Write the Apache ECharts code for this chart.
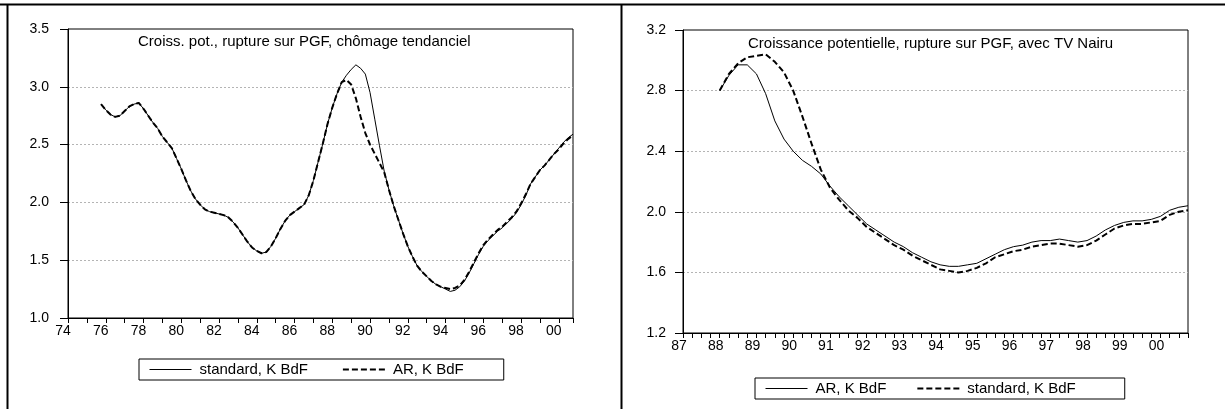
<!DOCTYPE html>
<html>
<head>
<meta charset="utf-8">
<script src="https://cdn.jsdelivr.net/npm/echarts@6/dist/echarts.min.js"></script>
<style>
html, body { margin: 0; padding: 0; background: #fff; }
#chart { width: 1225px; height: 409px; }
</style>
</head>
<body>
<div id="chart"></div>
<script>
// left panel: quarterly, first obs 1975Q4
var leftStart = 1975.75;
var leftStandard = [
  2.85, 2.80, 2.76, 2.74, 2.75, 2.79, 2.83, 2.85, 2.86,
  2.81, 2.75, 2.69, 2.64, 2.57, 2.52, 2.47, 2.38,
  2.29, 2.19, 2.10, 2.03, 1.98, 1.94, 1.92, 1.91,
  1.90, 1.89, 1.87, 1.83, 1.78, 1.72, 1.66, 1.61,
  1.58, 1.56, 1.57, 1.62, 1.69, 1.77, 1.84, 1.89,
  1.92, 1.95, 1.98, 2.06, 2.19, 2.35, 2.51, 2.68,
  2.82, 2.94, 3.04, 3.10, 3.15, 3.19, 3.16, 3.11,
  2.95, 2.72, 2.49, 2.27, 2.11, 1.97, 1.85, 1.73,
  1.62, 1.53, 1.45, 1.40, 1.36, 1.32, 1.29, 1.27,
  1.25, 1.23, 1.24, 1.27, 1.32, 1.39, 1.47, 1.55,
  1.62, 1.67, 1.71, 1.75, 1.78, 1.82, 1.86, 1.91,
  1.98, 2.06, 2.16, 2.22, 2.28, 2.32, 2.37, 2.42,
  2.47, 2.52, 2.56, 2.59
];
var leftAR = [
  2.85, 2.80, 2.76, 2.74, 2.75, 2.79, 2.83, 2.85, 2.86,
  2.81, 2.75, 2.69, 2.64, 2.57, 2.52, 2.47, 2.38,
  2.29, 2.19, 2.10, 2.03, 1.98, 1.94, 1.92, 1.91,
  1.90, 1.89, 1.87, 1.83, 1.78, 1.72, 1.66, 1.61,
  1.58, 1.56, 1.57, 1.62, 1.69, 1.77, 1.84, 1.89,
  1.92, 1.95, 1.98, 2.06, 2.19, 2.35, 2.51, 2.68,
  2.82, 2.94, 3.04, 3.06, 3.02, 2.90, 2.74, 2.60,
  2.50, 2.42, 2.34, 2.26, 2.11, 1.97, 1.85, 1.73,
  1.62, 1.53, 1.45, 1.40, 1.36, 1.32, 1.29, 1.27,
  1.26, 1.25, 1.26, 1.28, 1.33, 1.40, 1.48, 1.56,
  1.63, 1.68, 1.72, 1.76, 1.79, 1.83, 1.87, 1.92,
  1.99, 2.07, 2.16, 2.22, 2.28, 2.32, 2.37, 2.42,
  2.46, 2.51, 2.55, 2.58
];

// right panel: quarterly, first obs 1988Q1
var rightStart = 1988;
var rightAR = [
  2.80, 2.90, 2.97, 2.97, 2.91, 2.78, 2.60, 2.48,
  2.40, 2.34, 2.30, 2.25, 2.17, 2.10, 2.04, 1.98,
  1.92, 1.88, 1.84, 1.80, 1.77, 1.73, 1.70, 1.67,
  1.65, 1.64, 1.64, 1.65, 1.66, 1.69, 1.72, 1.75,
  1.77, 1.78, 1.80, 1.81, 1.81, 1.82, 1.81, 1.80,
  1.81, 1.84, 1.88, 1.91, 1.93, 1.94, 1.94, 1.95,
  1.97, 2.01, 2.03, 2.04
];
var rightStandard = [
  2.80, 2.91, 2.98, 3.02, 3.03, 3.04, 2.99, 2.92,
  2.80, 2.63, 2.45, 2.28, 2.16, 2.08, 2.01, 1.96,
  1.90, 1.86, 1.82, 1.78, 1.75, 1.71, 1.68, 1.65,
  1.62, 1.61, 1.60, 1.61, 1.63, 1.66, 1.70, 1.72,
  1.74, 1.75, 1.77, 1.78, 1.79, 1.79, 1.78, 1.77,
  1.78, 1.81, 1.85, 1.89, 1.91, 1.92, 1.92, 1.93,
  1.94, 1.98, 2.00, 2.01
];

var leftTitle = 'Croiss. pot., rupture sur PGF, chômage tendanciel';
var rightTitle = 'Croissance potentielle, rupture sur PGF, avec TV Nairu';

function toPairs(start, values) {
  return values.map(function (v, i) { return [start + i * 0.25, v]; });
}

var font = 'Liberation Sans, Arial, sans-serif';
var solid = { color: '#000', width: 1, type: 'solid' };
var dashed = { color: '#000', width: 2, type: [6, 3] };
var noSymbol = { color: 'transparent', borderWidth: 0, opacity: 0 };

function yAxis(grid, min, max, step, margin) {
  return {
    type: 'value', gridIndex: grid, min: min, max: max, interval: step,
    axisLine: { show: true, lineStyle: { color: '#000', width: 1 } },
    axisTick: { show: true, length: 8, lineStyle: { color: '#000' } },
    axisLabel: {
      color: '#000', fontSize: 14, fontFamily: font, margin: margin,
      formatter: function (v) { return v.toFixed(1); }
    },
    splitLine: { show: true, showMinLine: false, showMaxLine: false,
      lineStyle: { color: '#b4b4b4', type: [2, 2], width: 1 } }
  };
}

function yearLabel(v) {
  return String(Math.round(v) % 100).padStart(2, '0');
}

function legendBox(left, top, pad, gap, items) {
  return {
    left: left, top: top, orient: 'horizontal',
    padding: pad, itemGap: gap, itemWidth: 42, itemHeight: 12,
    borderColor: '#000', borderWidth: 1, borderRadius: 0,
    textStyle: { color: '#000', fontSize: 15, fontFamily: font, padding: [0, 0, 0, 3] },
    formatter: function (n) { return n.replace('#R', ''); },
    data: items,
    selectedMode: false
  };
}

function lineSeries(name, axis, start, values, style, z) {
  return {
    name: name, type: 'line', xAxisIndex: axis, yAxisIndex: axis,
    data: toPairs(start, values), showSymbol: false, symbol: 'none',
    itemStyle: { color: '#000' }, lineStyle: style, z: z
  };
}

var chart = echarts.init(document.getElementById('chart'));
chart.setOption({
  backgroundColor: '#fff',
  animation: false,
  title: [
    { text: leftTitle, left: 138, top: 34, padding: 0,
      textStyle: { fontSize: 15, fontWeight: 'normal', color: '#000', fontFamily: font } },
    { text: rightTitle, left: 748, top: 36, padding: 0,
      textStyle: { fontSize: 15, fontWeight: 'normal', color: '#000', fontFamily: font } }
  ],
  grid: [
    { left: 68, top: 29, width: 505, height: 289, show: true,
      borderColor: '#000', borderWidth: 1, backgroundColor: 'transparent' },
    { left: 683, top: 30, width: 505, height: 303, show: true,
      borderColor: '#000', borderWidth: 1, backgroundColor: 'transparent' }
  ],
  xAxis: [
    {
      type: 'value', gridIndex: 0, min: 1974, max: 2000.75, interval: 1,
      axisLine: { show: true, onZero: false, lineStyle: { color: '#000' } },
      axisTick: { show: true, length: 5, lineStyle: { color: '#000' } },
      axisLabel: {
        color: '#000', fontSize: 14, fontFamily: font, margin: 6, padding: [0, 10, 0, 0],
        formatter: function (v) {
          return (Math.abs(v - Math.round(v)) < 1e-6 && Math.round(v) % 2 === 0) ? yearLabel(v) : '';
        }
      },
      splitLine: { show: false }
    },
    {
      type: 'value', gridIndex: 1, min: 1987, max: 2000.75, interval: 0.25,
      axisLine: { show: true, onZero: false, lineStyle: { color: '#000' } },
      axisTick: { show: true, length: 5, lineStyle: { color: '#000' } },
      axisLabel: {
        color: '#000', fontSize: 14, fontFamily: font, margin: 6, padding: [0, 8, 0, 0],
        formatter: function (v) {
          return Math.abs(v - Math.round(v)) < 1e-6 ? yearLabel(v) : '';
        }
      },
      splitLine: { show: false }
    }
  ],
  yAxis: [
    yAxis(0, 1.0, 3.5, 0.5, 19),
    yAxis(1, 1.2, 3.2, 0.4, 17)
  ],
  legend: [
    legendBox(139, 359, [3, 40, 3, 10], 34, [
      { name: 'standard, K BdF', lineStyle: solid, itemStyle: noSymbol },
      { name: 'AR, K BdF', lineStyle: dashed, itemStyle: noSymbol }
    ]),
    legendBox(755, 378, [3, 49, 3, 10], 30, [
      { name: 'AR, K BdF#R', lineStyle: solid, itemStyle: noSymbol },
      { name: 'standard, K BdF#R', lineStyle: dashed, itemStyle: noSymbol }
    ])
  ],
  series: [
    lineSeries('standard, K BdF', 0, leftStart, leftStandard, solid, 3),
    lineSeries('AR, K BdF', 0, leftStart, leftAR, dashed, 2),
    lineSeries('AR, K BdF#R', 1, rightStart, rightAR, solid, 3),
    lineSeries('standard, K BdF#R', 1, rightStart, rightStandard, dashed, 2)
  ],
  graphic: [
    { type: 'line', shape: { x1: 0, y1: 4.5, x2: 1225, y2: 4.5 }, style: { stroke: '#000', lineWidth: 2 } },
    { type: 'line', shape: { x1: 7.5, y1: 4, x2: 7.5, y2: 409 }, style: { stroke: '#000', lineWidth: 2 } },
    { type: 'line', shape: { x1: 621.5, y1: 4, x2: 621.5, y2: 409 }, style: { stroke: '#000', lineWidth: 2 } }
  ]
});
</script>
</body>
</html>
